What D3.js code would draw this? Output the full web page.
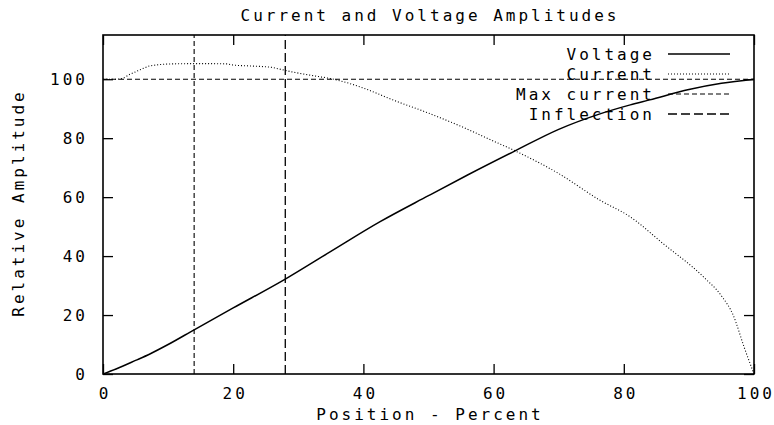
<!DOCTYPE html>
<html>
<head>
<meta charset="utf-8">
<script src="https://cdn.jsdelivr.net/npm/d3@7"></script>
<style>
  html, body { margin: 0; padding: 0; background: #fff; }
  text { font-family: "DejaVu Sans Mono", monospace; font-size: 16px; letter-spacing: 3px; fill: #000; }
</style>
</head>
<body>
<svg id="chart" width="774" height="425"></svg>
<script>
// ---- data ----
const title = "Current and Voltage Amplitudes";
const xLabel = "Position - Percent";
const yLabel = "Relative Amplitude";
const xTicks = [0, 20, 40, 60, 80, 100];
const yTicks = [0, 20, 40, 60, 80, 100];

const voltageX = [0, 2, 5, 7.2, 10, 14, 20, 28, 35, 42.5, 50, 56, 63.3, 70, 76, 81, 84, 90, 95, 100];
const voltageY = [0, 1.7, 4.6, 6.8, 10, 15, 22.4, 32.2, 41.6, 51.6, 60.5, 67.5, 75.7, 83, 88, 91.3, 93, 96.5, 98.6, 100];

const currentX = [0, 2, 3, 4, 5, 6, 7.2, 10.6, 15, 19, 20, 22.6, 26, 27, 29, 31.8, 36, 40, 44.5, 50, 55, 60, 63.3, 70, 76.3, 81, 86, 92.2, 95, 96.8, 98.5, 100];
const currentY = [100, 100, 100.3, 101.5, 102.5, 103.5, 104.5, 105.2, 105.3, 105.2, 104.8, 104.5, 104, 103.5, 102.5, 101.4, 99.7, 97, 93, 88.5, 84, 79, 75.7, 68, 59, 53.3, 44.3, 33, 26.5, 20, 9, 0];

const maxCurrent = 100;
const maxCurrentPos = 14;
const inflectionPos = 28;

const legendNames = ["Voltage", "Current", "Max current", "Inflection"];

// ---- layout ----
const svg = d3.select("#chart");
const L = 103, R = 754, T = 35, B = 374;
const x = d3.scaleLinear().domain([0, 100]).range([L, R]);
const y = d3.scaleLinear().domain([0, 115]).range([B, T]);

const styles = {
  "Voltage":     { w: 1.5, dash: null },
  "Current":     { w: 1.1, dash: "1,2" },
  "Max current": { w: 1.1, dash: "5,3" },
  "Inflection":  { w: 1.3, dash: "9,4" }
};

// title
svg.append("text").attr("x", (L + R) / 2 + 1.5).attr("y", 21)
  .attr("text-anchor", "middle").text(title);

// axis labels
svg.append("text").attr("x", (L + R) / 2 + 1.5).attr("y", 420)
  .attr("text-anchor", "middle").text(xLabel);
svg.append("text")
  .attr("transform", `translate(24,${(T + B) / 2}) rotate(-90)`)
  .attr("x", 1.5).attr("text-anchor", "middle").text(yLabel);

// axes with inward ticks (mirrored)
const tickLen = 10;
const axB = d3.axisBottom(x).tickValues(xTicks).tickSize(-tickLen).tickPadding(14).tickFormat(d3.format("d"));
const axT = d3.axisTop(x).tickValues(xTicks).tickSize(-tickLen).tickFormat("");
const axL = d3.axisLeft(y).tickValues(yTicks).tickSize(-tickLen).tickPadding(15).tickFormat(d3.format("d"));
const axR = d3.axisRight(y).tickValues(yTicks).tickSize(-tickLen).tickFormat("");

function styleAxis(g) {
  g.select(".domain").remove();
  g.selectAll(".tick line").attr("stroke", "#000").attr("stroke-width", 1.3);
  g.selectAll(".tick text").attr("font-family", null).attr("font-size", null).attr("fill", "#000");
}
svg.append("g").attr("transform", `translate(0,${B})`).call(axB).call(styleAxis)
  .selectAll(".tick text").attr("dx", "1.5");
svg.append("g").attr("transform", `translate(0,${T})`).call(axT).call(styleAxis);
svg.append("g").attr("transform", `translate(${L},0)`).call(axL).call(styleAxis);
svg.append("g").attr("transform", `translate(${R},0)`).call(axR).call(styleAxis);

// border
svg.append("rect").attr("x", L).attr("y", T).attr("width", R - L).attr("height", B - T)
  .attr("fill", "none").attr("stroke", "#000").attr("stroke-width", 1.6);

// clip
svg.append("clipPath").attr("id", "clip").append("rect")
  .attr("x", L).attr("y", T).attr("width", R - L).attr("height", B - T);
const plot = svg.append("g").attr("clip-path", "url(#clip)");

const smooth = d3.line().x(d => x(d[0])).y(d => y(d[1])).curve(d3.curveMonotoneX);
const straight = d3.line().x(d => x(d[0])).y(d => y(d[1]));

function drawPath(g, pts, name, gen) {
  const s = styles[name];
  const p = g.append("path").datum(pts).attr("d", gen || straight)
    .attr("fill", "none").attr("stroke", "#000").attr("stroke-width", s.w);
  if (s.dash) p.attr("stroke-dasharray", s.dash);
  return p;
}

// legend
const legTextX = 655, legLineX1 = 668, legLineX2 = 730;
const legY = [54, 74, 94, 114];
legendNames.forEach((n, i) => {
  svg.append("text").attr("x", legTextX).attr("y", legY[i]).attr("dy", "0.35em")
    .attr("text-anchor", "end").text(n);
  const s = styles[n];
  const l = svg.append("line").attr("x1", legLineX1).attr("x2", legLineX2)
    .attr("y1", legY[i]).attr("y2", legY[i]).attr("stroke", "#000").attr("stroke-width", s.w);
  if (s.dash) l.attr("stroke-dasharray", s.dash);
});

// data lines
drawPath(plot, voltageX.map((v, i) => [v, voltageY[i]]), "Voltage", smooth);
drawPath(plot, currentX.map((v, i) => [v, currentY[i]]), "Current", smooth);
drawPath(plot, [[0, maxCurrent], [100, maxCurrent]], "Max current");
drawPath(plot, [[maxCurrentPos, 0], [maxCurrentPos, 115]], "Max current");
drawPath(plot, [[inflectionPos, 0], [inflectionPos, 115]], "Inflection");
</script>
</body>
</html>
